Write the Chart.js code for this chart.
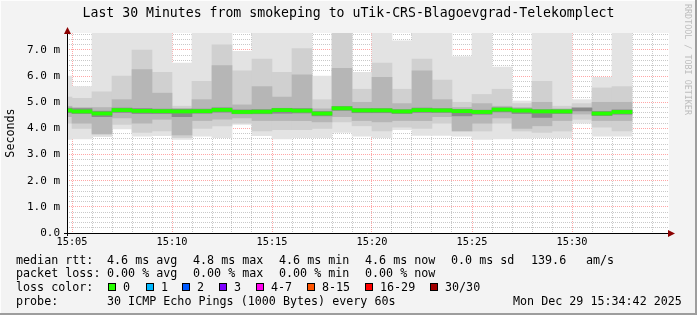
<!DOCTYPE html>
<html>
<head>
<meta charset="utf-8">
<script src="https://cdn.jsdelivr.net/npm/chart.js@4/dist/chart.umd.min.js"></script>
<style>
    body { margin: 0; }
    #frame {
        position: relative; width: 697px; height: 315px; overflow: hidden;
        background: #f3f3f3;
        box-shadow: inset -2px -2px 0 #9d9d9d, inset 1px 1px 0 #fdfdfd;
        font-family: 'DejaVu Sans Mono', monospace; color: #000;
    }
    #chart { position: absolute; left: 0; top: 0; }
    .title { position: absolute; left: 0; top: 5px; width: 697px; text-align: center; font-size: 13.2px; line-height: 16px; }
    .mark { position: absolute; left: 683px; top: 4px; writing-mode: vertical-rl; font-size: 8.4px; color: #bdbdbd; }
    .t { position: absolute; font-size: 11.7px; line-height: 14px; white-space: pre; }
    .sq { position: absolute; width: 8px; height: 8px; box-sizing: border-box; border: 1px solid #000; }
</style>
</head>
<body>
<div id="frame">
    <canvas id="chart" width="697" height="315"></canvas>
    <div class="title">Last 30 Minutes from smokeping to uTik-CRS-Blagoevgrad-Telekomplect</div>
    <div class="mark">RRDTOOL / TOBI OETIKER</div>

    <span class="t" style="left:16px;top:253px">median rtt:</span>
    <span class="t" style="left:107px;top:253px">4.6 ms avg</span>
    <span class="t" style="left:193px;top:253px">4.8 ms max</span>
    <span class="t" style="left:279px;top:253px">4.6 ms min</span>
    <span class="t" style="left:365px;top:253px">4.6 ms now</span>
    <span class="t" style="left:451px;top:253px">0.0 ms sd</span>
    <span class="t" style="left:531px;top:253px">139.6</span>
    <span class="t" style="left:586px;top:253px">am/s</span>

    <span class="t" style="left:16px;top:266px">packet loss:</span>
    <span class="t" style="left:107px;top:266px">0.00 % avg</span>
    <span class="t" style="left:193px;top:266px">0.00 % max</span>
    <span class="t" style="left:279px;top:266px">0.00 % min</span>
    <span class="t" style="left:365px;top:266px">0.00 % now</span>

    <span class="t" style="left:16px;top:280px">loss color:</span>
    <div id="lossLegend"></div>

    <span class="t" style="left:16px;top:294px">probe:</span>
    <span class="t" style="left:107px;top:294px">30 ICMP Echo Pings (1000 Bytes) every 60s</span>
    <span class="t" style="left:513px;top:294px">Mon Dec 29 15:34:42 2025</span>
</div>

<script>
// one entry per 60s step (start of step)
const stepStart = [
    '15:04', '15:05', '15:06', '15:07', '15:08', '15:09', '15:10', '15:11', '15:12', '15:13',
    '15:14', '15:15', '15:16', '15:17', '15:18', '15:19', '15:20', '15:21', '15:22', '15:23',
    '15:24', '15:25', '15:26', '15:27', '15:28', '15:29', '15:30', '15:31', '15:32'
];

// rtt in ms
const median = [4.69, 4.65, 4.57, 4.70, 4.67, 4.66, 4.65, 4.66, 4.71, 4.63, 4.64, 4.70, 4.68, 4.57, 4.77,
                4.69, 4.69, 4.65, 4.70, 4.69, 4.66, 4.63, 4.72, 4.68, 4.65, 4.65, 4.72, 4.57, 4.63];
const lossPct = [0, 0, 0, 0, 0, 0, 0, 0, 0, 0, 0, 0, 0, 0, 0,
                 0, 0, 0, 0, 0, 0, 0, 0, 0, 0, 0, null, 0, 0];

const smokeMax = [6.00, 5.60, 7.65, 7.65, 7.65, 7.65, 6.50, 7.65, 7.65, 6.95, 7.65, 7.65, 7.65, 6.00, 7.65,
                  6.15, 7.65, 7.35, 7.65, 7.65, 6.75, 7.65, 6.35, 5.05, 7.65, 7.65, 5.10, 5.95, 7.65];
const smokeMin = [3.58, 3.60, 3.68, 3.98, 3.70, 3.72, 3.58, 3.70, 3.65, 4.15, 3.72, 3.60, 3.65, 3.65, 3.85,
                  3.70, 3.65, 3.95, 3.73, 3.73, 3.70, 3.58, 3.60, 3.62, 3.65, 3.65, 4.20, 3.70, 3.70];

const band2Hi = [5.20, 5.15, 5.40, 6.00, 7.00, 6.15, 4.85, 5.80, 7.20, 6.20, 6.65, 6.15, 7.05, 5.10, 7.65,
                 5.50, 6.50, 5.50, 6.65, 5.85, 5.00, 5.30, 5.50, 4.95, 5.80, 4.85, 4.95, 5.55, 5.60];
const band2Lo = [4.20, 4.00, 3.75, 4.15, 3.85, 3.90, 3.65, 4.00, 4.10, 4.20, 3.90, 3.95, 3.95, 4.00, 4.25,
                 4.10, 3.90, 4.05, 4.00, 4.20, 4.05, 3.90, 4.20, 3.90, 3.85, 3.90, 4.35, 4.05, 3.90];

const band3Hi = [4.85, 4.80, 4.80, 5.10, 6.25, 5.35, 4.75, 5.10, 6.40, 4.90, 5.60, 5.20, 6.05, 4.75, 6.30,
                 5.00, 5.95, 4.95, 6.20, 5.10, 4.80, 4.95, 4.85, 4.80, 5.00, 4.75, 4.80, 5.00, 5.00];
const band3Lo = [4.45, 4.20, 3.80, 4.40, 4.20, 4.35, 3.75, 4.30, 4.35, 4.40, 4.30, 4.30, 4.30, 4.25, 4.45,
                 4.30, 4.25, 4.30, 4.30, 4.45, 3.90, 4.20, 4.40, 4.00, 4.10, 4.30, 4.55, 4.30, 4.30];

const band4Hi = [4.78, 4.76, 4.66, 4.78, 4.76, 4.74, 4.74, 4.74, 4.79, 4.71, 4.72, 4.77, 4.76, 4.65, 4.84,
                 4.76, 4.76, 4.72, 4.78, 4.76, 4.73, 4.70, 4.79, 4.75, 4.72, 4.72, 4.78, 4.65, 4.71];
const band4Lo = [4.60, 4.57, 4.45, 4.61, 4.57, 4.57, 4.45, 4.58, 4.62, 4.56, 4.56, 4.58, 4.59, 4.48, 4.69,
                 4.60, 4.60, 4.57, 4.61, 4.61, 4.48, 4.54, 4.63, 4.57, 4.42, 4.57, 4.67, 4.49, 4.54];

const xLabels = ['15:05', '15:10', '15:15', '15:20', '15:25', '15:30'];
const yLabels = ['0.0', '1.0 m', '2.0 m', '3.0 m', '4.0 m', '5.0 m', '6.0 m', '7.0 m'];

const lossLabels = ['0', '1', '2', '3', '4-7', '8-15', '16-29', '30/30'];
const lossColors = ['#26ff00', '#00b8ff', '#0059ff', '#7e00ff', '#ff00ee', '#ff5500', '#ff0000', '#a10000'];
const lossBoxX = [108, 146, 182, 219, 256, 307, 365, 430];

document.addEventListener('DOMContentLoaded', function () {
    const mono = 'DejaVu Sans Mono';
    const minuteOf = s => parseInt(s.slice(3), 10) + 0.5; // step centre, minutes after 15:00

    // loss colour legend
    const lossLegend = document.getElementById('lossLegend');
    lossLabels.forEach((label, i) => {
        const box = document.createElement('div');
        box.className = 'sq';
        box.style.left = lossBoxX[i] + 'px';
        box.style.top = '283px';
        box.style.background = lossColors[i];
        lossLegend.appendChild(box);
        const txt = document.createElement('span');
        txt.className = 't';
        txt.style.left = (lossBoxX[i] + 15) + 'px';
        txt.style.top = '280px';
        txt.textContent = label;
        lossLegend.appendChild(txt);
    });

    function band(lo, hi, color, order) {
        return {
            data: stepStart.map((s, i) => ({ x: minuteOf(s), y: [lo[i], hi[i]] })),
            backgroundColor: color,
            order: order
        };
    }

    const medianBars = {
        data: stepStart
            .map((s, i) => ({ x: minuteOf(s), y: [median[i] - 0.06, median[i] + 0.06], loss: lossPct[i] }))
            .filter(p => p.loss === 0),
        backgroundColor: lossColors[0],
        order: 0
    };

    const xGrid = [];
    for (let m = 5; m <= 34; m++) xGrid.push(m);
    const yGrid = [];
    for (let i = 0; i <= 38; i++) yGrid.push(Math.round(i * 2) / 10);

    const minorColor = 'rgba(120, 120, 120, 0.4)';
    const majorColor = 'rgba(255, 0, 0, 0.35)';

    const plotBackground = {
        id: 'plotBackground',
        beforeDraw(chart) {
            const { ctx, chartArea: a } = chart;
            ctx.save();
            ctx.fillStyle = '#ffffff';
            ctx.fillRect(a.left, a.top, a.width, a.height);
            ctx.restore();
        }
    };

    const axisArrows = {
        id: 'axisArrows',
        afterDraw(chart) {
            const { ctx, chartArea: a } = chart;
            ctx.save();
            ctx.strokeStyle = '#000';
            ctx.lineWidth = 1;
            ctx.beginPath();
            ctx.moveTo(a.left + 0.5, a.bottom + 3);
            ctx.lineTo(a.left + 0.5, a.top - 2);
            ctx.moveTo(a.left - 3, a.bottom + 0.5);
            ctx.lineTo(a.right + 2, a.bottom + 0.5);
            ctx.stroke();
            ctx.fillStyle = '#8b0000';
            ctx.beginPath();
            ctx.moveTo(a.left + 0.5, a.top - 6);
            ctx.lineTo(a.left - 3, a.top + 1);
            ctx.lineTo(a.left + 4, a.top + 1);
            ctx.fill();
            ctx.beginPath();
            ctx.moveTo(a.right + 6, a.bottom + 0.5);
            ctx.lineTo(a.right - 1, a.bottom - 3);
            ctx.lineTo(a.right - 1, a.bottom + 4);
            ctx.fill();
            ctx.restore();
        }
    };

    new Chart(document.getElementById('chart').getContext('2d'), {
        type: 'bar',
        data: {
            datasets: [
                band(smokeMin, smokeMax, '#e3e3e3', 4),
                band(band2Lo, band2Hi, '#d0d0d0', 3),
                band(band3Lo, band3Hi, '#b6b6b6', 2),
                band(band4Lo, band4Hi, '#8a8a8a', 1),
                medianBars
            ]
        },
        options: {
            responsive: false,
            animation: false,
            devicePixelRatio: 1,
            layout: { padding: { top: 33, right: 28, bottom: 62, left: 0 } },
            datasets: {
                bar: { grouped: false, categoryPercentage: 1, barPercentage: 1, borderWidth: 0 }
            },
            plugins: {
                legend: { display: false },
                tooltip: { enabled: false }
            },
            scales: {
                x: {
                    type: 'linear',
                    min: 4.75,
                    max: 34.85,
                    offset: false,
                    z: 1,
                    afterFit: s => { s.height = 20; },
                    afterBuildTicks: s => { s.ticks = xGrid.map(v => ({ value: v })); },
                    grid: {
                        offset: false,
                        drawTicks: false,
                        lineWidth: 1,
                        color: c => (c.tick && c.tick.value % 5 === 0) ? majorColor : minorColor
                    },
                    border: { display: false, dash: [1, 1] },
                    ticks: {
                        autoSkip: false,
                        maxRotation: 0,
                        padding: 3,
                        color: '#000',
                        font: { family: mono, size: 10.3 },
                        callback: v => v % 5 === 0 ? xLabels[(v - 5) / 5] : ''
                    }
                },
                y: {
                    min: 0,
                    max: 7.65,
                    z: 1,
                    afterFit: s => { s.width = 67; },
                    afterBuildTicks: s => { s.ticks = yGrid.map(v => ({ value: v })); },
                    grid: {
                        drawTicks: false,
                        lineWidth: 1,
                        color: c => (c.tick && Math.abs(c.tick.value - Math.round(c.tick.value)) < 1e-6) ? majorColor : minorColor
                    },
                    border: { display: false, dash: [1, 1] },
                    title: {
                        display: true,
                        text: 'Seconds',
                        color: '#000',
                        font: { family: mono, size: 11.7 },
                        padding: { top: 4, bottom: 0 }
                    },
                    ticks: {
                        autoSkip: false,
                        padding: 7,
                        color: '#000',
                        font: { family: mono, size: 11 },
                        callback: v => Math.abs(v - Math.round(v)) < 1e-6 ? yLabels[Math.round(v)] : ''
                    }
                }
            }
        },
        plugins: [plotBackground, axisArrows]
    });
});
</script>
</body>
</html>
